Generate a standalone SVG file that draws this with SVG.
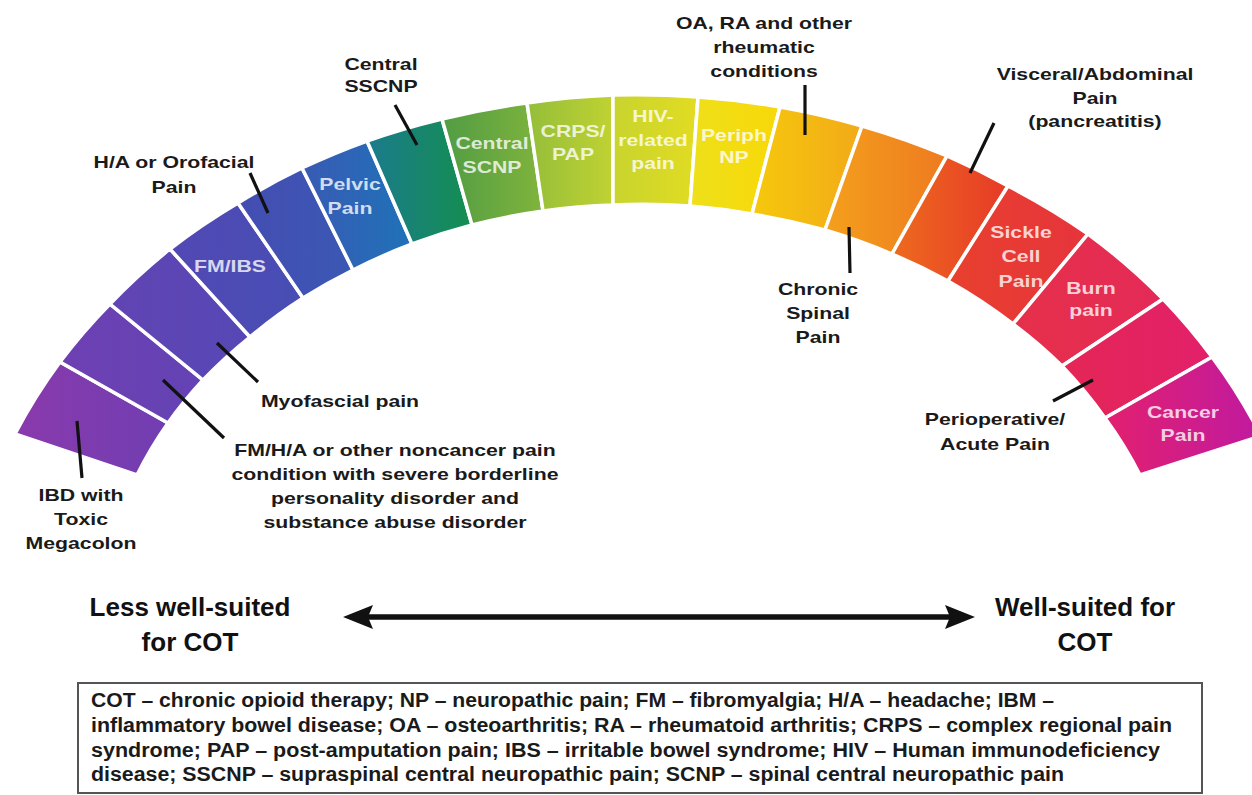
<svg xmlns="http://www.w3.org/2000/svg" width="1252" height="795" viewBox="0 0 1252 795">
<style>
.seg{stroke:#fff;stroke-width:3.5;stroke-linejoin:miter}
.lbl{font-family:"Liberation Sans",Arial,sans-serif;font-weight:bold;font-size:17px;fill:#1a1a1a;text-anchor:middle}
.in{font-family:"Liberation Sans",Arial,sans-serif;font-weight:bold;font-size:17px;fill:#fff;fill-opacity:.78;text-anchor:middle}
.axis{font-family:"Liberation Sans",Arial,sans-serif;font-weight:bold;font-size:26px;fill:#111;text-anchor:middle}
.leg{font-family:"Liberation Sans",Arial,sans-serif;font-weight:bold;font-size:20px;fill:#1a1a1a}
.lead{stroke:#111;stroke-width:3.2;stroke-linecap:butt;fill:none}
</style>
<defs>
<linearGradient id="g0" x1="0" y1="0" x2="1" y2="0"><stop offset="0" stop-color="#8a3aac"/><stop offset="1" stop-color="#703eb2"/></linearGradient>
<linearGradient id="g1" x1="0" y1="0" x2="1" y2="0"><stop offset="0" stop-color="#6e40b2"/><stop offset="1" stop-color="#6343b4"/></linearGradient>
<linearGradient id="g2" x1="0" y1="0" x2="1" y2="0"><stop offset="0" stop-color="#6244b4"/><stop offset="1" stop-color="#5548b4"/></linearGradient>
<linearGradient id="g3" x1="0" y1="0" x2="1" y2="0"><stop offset="0" stop-color="#5248b4"/><stop offset="1" stop-color="#474eb4"/></linearGradient>
<linearGradient id="g4" x1="0" y1="0" x2="1" y2="0"><stop offset="0" stop-color="#454db2"/><stop offset="1" stop-color="#3a58b4"/></linearGradient>
<linearGradient id="g5" x1="0" y1="0" x2="1" y2="0"><stop offset="0" stop-color="#395ab4"/><stop offset="1" stop-color="#1f72b8"/></linearGradient>
<linearGradient id="g6" x1="0" y1="0" x2="1" y2="0"><stop offset="0" stop-color="#1b7b8c"/><stop offset="1" stop-color="#148e50"/></linearGradient>
<linearGradient id="g7" x1="0" y1="0" x2="1" y2="0"><stop offset="0" stop-color="#519c44"/><stop offset="1" stop-color="#80b43c"/></linearGradient>
<linearGradient id="g8" x1="0" y1="0" x2="1" y2="0"><stop offset="0" stop-color="#94be3a"/><stop offset="1" stop-color="#c0d232"/></linearGradient>
<linearGradient id="g9" x1="0" y1="0" x2="1" y2="0"><stop offset="0" stop-color="#c8d42e"/><stop offset="1" stop-color="#e2dc22"/></linearGradient>
<linearGradient id="g10" x1="0" y1="0" x2="1" y2="0"><stop offset="0" stop-color="#eee01a"/><stop offset="1" stop-color="#f8d808"/></linearGradient>
<linearGradient id="g11" x1="0" y1="0" x2="1" y2="0"><stop offset="0" stop-color="#f6c80c"/><stop offset="1" stop-color="#f2aa18"/></linearGradient>
<linearGradient id="g12" x1="0" y1="0" x2="1" y2="0"><stop offset="0" stop-color="#f4a01c"/><stop offset="1" stop-color="#ee7a20"/></linearGradient>
<linearGradient id="g13" x1="0" y1="0" x2="1" y2="0"><stop offset="0" stop-color="#ee6a1e"/><stop offset="1" stop-color="#e63a28"/></linearGradient>
<linearGradient id="g14" x1="0" y1="0" x2="1" y2="0"><stop offset="0" stop-color="#e8402e"/><stop offset="1" stop-color="#e6343c"/></linearGradient>
<linearGradient id="g15" x1="0" y1="0" x2="1" y2="0"><stop offset="0" stop-color="#e6304a"/><stop offset="1" stop-color="#e42a58"/></linearGradient>
<linearGradient id="g16" x1="0" y1="0" x2="1" y2="0"><stop offset="0" stop-color="#e42656"/><stop offset="1" stop-color="#e2206a"/></linearGradient>
<linearGradient id="g17" x1="0" y1="0" x2="1" y2="0"><stop offset="0" stop-color="#e2206e"/><stop offset="1" stop-color="#c01aa0"/></linearGradient>
<marker id="head" viewBox="0 0 30 26" refX="14" refY="13" markerWidth="30" markerHeight="26" markerUnits="userSpaceOnUse" orient="auto-start-reverse">
<path d="M0,1 L30,13 L0,25 L5,13 Z" fill="#111"/>
</marker>
</defs>
<rect width="1252" height="795" fill="#fff"/>

<g id="seg-ibd"><path class="seg" fill="url(#g0)" d="M15,434 A680,568 0 0 1 60,362 L168,423 A540,434 0 0 0 137,475 Z"/></g>
<g id="seg-fmha-bpd"><path class="seg" fill="url(#g1)" d="M60,362 A680,568 0 0 1 110,304 L203,380 A540,434 0 0 0 168,423 Z"/></g>
<g id="seg-myofascial"><path class="seg" fill="url(#g2)" d="M110,304 A680,568 0 0 1 170,249 L250,337 A540,434 0 0 0 203,380 Z"/></g>
<g id="seg-fmibs"><path class="seg" fill="url(#g3)" d="M170,249 A680,568 0 0 1 238,203 L303,298 A540,434 0 0 0 250,337 Z"/>
<text class="in" transform="translate(230 272) scale(1.25 1)">FM/IBS</text></g>
<g id="seg-ha"><path class="seg" fill="url(#g4)" d="M238,203 A680,568 0 0 1 302,168 L353,270 A540,434 0 0 0 303,298 Z"/></g>
<g id="seg-pelvic"><path class="seg" fill="url(#g5)" d="M302,168 A680,568 0 0 1 367,141 L412,244 A540,434 0 0 0 353,270 Z"/>
<text class="in" transform="translate(350 190) scale(1.25 1)"><tspan x="0">Pelvic</tspan><tspan x="0" dy="24">Pain</tspan></text></g>
<g id="seg-sscnp"><path class="seg" fill="url(#g6)" d="M367,141 A680,568 0 0 1 442,119 L472,225 A540,434 0 0 0 412,244 Z"/></g>
<g id="seg-scnp"><path class="seg" fill="url(#g7)" d="M442,119 A680,568 0 0 1 527,103 L543,211 A540,434 0 0 0 472,225 Z"/>
<text class="in" transform="translate(492 149) scale(1.25 1)"><tspan x="0">Central</tspan><tspan x="0" dy="24">SCNP</tspan></text></g>
<g id="seg-crps"><path class="seg" fill="url(#g8)" d="M527,103 A680,568 0 0 1 613,95 L613,205 A540,434 0 0 0 543,211 Z"/>
<text class="in" transform="translate(573 137) scale(1.25 1)"><tspan x="0">CRPS/</tspan><tspan x="0" dy="23">PAP</tspan></text></g>
<g id="seg-hiv"><path class="seg" fill="url(#g9)" d="M613,95 A680,568 0 0 1 698,97 L690,206 A540,434 0 0 0 613,205 Z"/>
<text class="in" transform="translate(653 122) scale(1.25 1)"><tspan x="0">HIV-</tspan><tspan x="0" dy="24">related</tspan><tspan x="0" dy="23">pain</tspan></text></g>
<g id="seg-periph"><path class="seg" fill="url(#g10)" d="M698,97 A680,568 0 0 1 780,107 L752,214 A540,434 0 0 0 690,206 Z"/>
<text class="in" transform="translate(734 141) scale(1.25 1)"><tspan x="0">Periph</tspan><tspan x="0" dy="22">NP</tspan></text></g>
<g id="seg-oa"><path class="seg" fill="url(#g11)" d="M780,107 A680,568 0 0 1 862,126 L825,230 A540,434 0 0 0 752,214 Z"/></g>
<g id="seg-spinal"><path class="seg" fill="url(#g12)" d="M862,126 A680,568 0 0 1 947,156 L892,254 A540,434 0 0 0 825,230 Z"/></g>
<g id="seg-visceral"><path class="seg" fill="url(#g13)" d="M947,156 A680,568 0 0 1 1008,186 L948,281 A540,434 0 0 0 892,254 Z"/></g>
<g id="seg-sickle"><path class="seg" fill="url(#g14)" d="M1008,186 A680,568 0 0 1 1088,234 L1013,324 A540,434 0 0 0 948,281 Z"/>
<text class="in" transform="translate(1021 238) scale(1.25 1)"><tspan x="0">Sickle</tspan><tspan x="0" dy="24">Cell</tspan><tspan x="0" dy="25">Pain</tspan></text></g>
<g id="seg-burn"><path class="seg" fill="url(#g15)" d="M1088,234 A680,568 0 0 1 1163,299 L1062,366 A540,434 0 0 0 1013,324 Z"/>
<text class="in" transform="translate(1091 294) scale(1.25 1)"><tspan x="0">Burn</tspan><tspan x="0" dy="22">pain</tspan></text></g>
<g id="seg-periop"><path class="seg" fill="url(#g16)" d="M1163,299 A680,568 0 0 1 1212,357 L1105,418 A540,434 0 0 0 1062,366 Z"/></g>
<g id="seg-cancer"><path class="seg" fill="url(#g17)" d="M1212,357 A680,568 0 0 1 1261,436 L1140,475 A540,434 0 0 0 1105,418 Z"/>
<text class="in" transform="translate(1183 418) scale(1.25 1)"><tspan x="0">Cancer</tspan><tspan x="0" dy="23">Pain</tspan></text></g>

<g id="label-sscnp"><text class="lbl" transform="translate(381 70) scale(1.25 1)"><tspan x="0">Central</tspan><tspan x="0" dy="22">SSCNP</tspan></text></g>
<g id="label-ha"><text class="lbl" transform="translate(174 168) scale(1.25 1)"><tspan x="0">H/A or Orofacial</tspan><tspan x="0" dy="25">Pain</tspan></text></g>
<g id="label-myofascial"><text class="lbl" transform="translate(340 407) scale(1.25 1)">Myofascial pain</text></g>
<g id="label-fmha"><text class="lbl" transform="translate(395 456) scale(1.25 1)"><tspan x="0">FM/H/A or other noncancer pain</tspan><tspan x="0" dy="24">condition with severe borderline</tspan><tspan x="0" dy="24">personality disorder and</tspan><tspan x="0" dy="24">substance abuse disorder</tspan></text></g>
<g id="label-ibd"><text class="lbl" transform="translate(81 501) scale(1.25 1)"><tspan x="0">IBD with</tspan><tspan x="0" dy="24">Toxic</tspan><tspan x="0" dy="24">Megacolon</tspan></text></g>
<g id="label-oa"><text class="lbl" transform="translate(764 29) scale(1.25 1)"><tspan x="0">OA, RA and other</tspan><tspan x="0" dy="24">rheumatic</tspan><tspan x="0" dy="24">conditions</tspan></text></g>
<g id="label-visceral"><text class="lbl" transform="translate(1095 80) scale(1.25 1)"><tspan x="0">Visceral/Abdominal</tspan><tspan x="0" dy="24">Pain</tspan><tspan x="0" dy="23">(pancreatitis)</tspan></text></g>
<g id="label-spinal"><text class="lbl" transform="translate(818 295) scale(1.25 1)"><tspan x="0">Chronic</tspan><tspan x="0" dy="24">Spinal</tspan><tspan x="0" dy="24">Pain</tspan></text></g>
<g id="label-periop"><text class="lbl" transform="translate(995 425) scale(1.25 1)"><tspan x="0">Perioperative/</tspan><tspan x="0" dy="25">Acute Pain</tspan></text></g>
<g id="label-less"><text class="axis"><tspan x="190" y="616">Less well-suited</tspan><tspan x="190" y="651">for COT</tspan></text></g>
<g id="label-well"><text class="axis"><tspan x="1085" y="616">Well-suited for</tspan><tspan x="1085" y="651">COT</tspan></text></g>

<g id="connectors">
<line class="lead" x1="77" y1="421" x2="82" y2="478"/>
<line class="lead" x1="163" y1="380" x2="224" y2="438"/>
<line class="lead" x1="217" y1="343" x2="258" y2="382"/>
<line class="lead" x1="250" y1="173" x2="268" y2="213"/>
<line class="lead" x1="395" y1="105" x2="417" y2="145"/>
<line class="lead" x1="805" y1="85" x2="805" y2="135"/>
<line class="lead" x1="849" y1="227" x2="850" y2="273"/>
<line class="lead" x1="994" y1="123" x2="970" y2="173"/>
<line class="lead" x1="1093" y1="380" x2="1053" y2="401"/>
<line x1="359" y1="617" x2="959" y2="617" stroke="#111" stroke-width="5.5" marker-start="url(#head)" marker-end="url(#head)"/>
</g>

<g id="legend">
<rect x="78" y="683" width="1124" height="110" fill="#fff" stroke="#555" stroke-width="2"/>
<text class="leg" x="91" y="707" textLength="963" lengthAdjust="spacingAndGlyphs">COT – chronic opioid therapy; NP – neuropathic pain; FM – fibromyalgia; H/A – headache;  IBM –</text>
<text class="leg" x="91" y="732" textLength="1081" lengthAdjust="spacingAndGlyphs">inflammatory bowel disease; OA – osteoarthritis; RA – rheumatoid arthritis; CRPS – complex regional pain</text>
<text class="leg" x="91" y="757" textLength="1069" lengthAdjust="spacingAndGlyphs">syndrome;  PAP – post-amputation pain; IBS – irritable bowel syndrome; HIV – Human immunodeficiency</text>
<text class="leg" x="91" y="781" textLength="973" lengthAdjust="spacingAndGlyphs">disease; SSCNP – supraspinal central neuropathic pain; SCNP – spinal central neuropathic pain</text>
</g>
</svg>
